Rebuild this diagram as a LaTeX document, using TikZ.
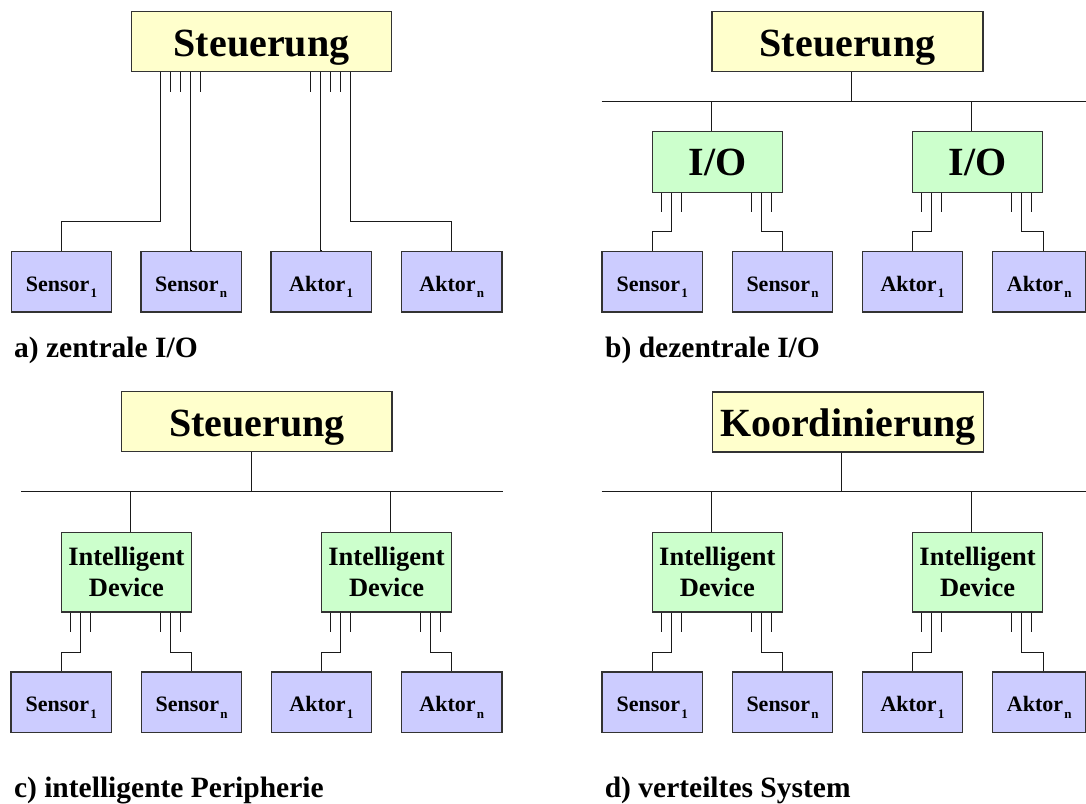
\documentclass[tikz,border=0pt]{standalone}
\usepackage{fontspec}
\setmainfont{Liberation Serif}
\definecolor{ctrlfill}{HTML}{FFFFCC}
\definecolor{devfill}{HTML}{CCFFCC}
\definecolor{fieldfill}{HTML}{CCCCFF}
\definecolor{boxline}{HTML}{333333}
\definecolor{wireline}{HTML}{1A1A1A}
\newcommand\idx[1]{\kern1.2pt\raisebox{-6.5pt}{\fontsize{13}{15}\selectfont #1}}
\begin{document}
\begin{tikzpicture}[x=1pt,y=-1pt,
  box/.style={draw=boxline, line width=1.2pt, inner sep=0pt},
  ctrl/.style={box, fill=ctrlfill, minimum height=60pt, text height=28.6pt, text depth=0pt, font=\fontsize{40}{48}\selectfont\bfseries},
  iobox/.style={box, fill=devfill, minimum width=130.3pt, minimum height=60.5pt, text height=27pt, text depth=0pt, font=\fontsize{40}{48}\selectfont\bfseries},
  devbox/.style={box, fill=devfill, minimum width=130.3pt, minimum height=79.7pt, align=center, font=\fontsize{26.5}{31}\selectfont\bfseries},
  fieldbox/.style={box, fill=fieldfill, minimum width=100.5pt, minimum height=60.5pt, text height=18.6pt, text depth=0pt, font=\fontsize{22}{26}\selectfont\bfseries},
  edgebox/.style={fieldbox, minimum width=93pt},
  caption/.style={anchor=base west, inner sep=0pt, font=\fontsize{29.5}{34}\selectfont\bfseries},
  wire/.style={draw=wireline, line width=1pt},
]
\useasboundingbox (0,0) rectangle (1086,803);

% ================= a) zentrale I/O =================
\node[ctrl, minimum width=260.7pt] (ca) at (261.5,41.7) {Steuerung};
\node[fieldbox] (as1) at (61.4,281.8) {Sensor\idx{1}};
\node[fieldbox] (asn) at (191.2,281.8) {Sensor\idx{n}};
\node[fieldbox] (aa1) at (321.2,281.8) {Aktor\idx{1}};
\node[fieldbox] (aan) at (451.8,281.8) {Aktor\idx{n}};
\foreach \o in {40,50,70,180,200,210}
  \draw[wire] ([xshift=\o]ca.south west) -- ++(0,19.3);
\draw[wire] ([xshift=30]ca.south west) -- ++(0,149.3) -| (as1.north);
\draw[wire] ([xshift=60]ca.south west) |- (asn.north);
\draw[wire] ([xshift=190]ca.south west) |- (aa1.north);
\draw[wire] ([xshift=220]ca.south west) -- ++(0,149.3) -| (aan.north);
\node[caption] (capa) at (14,357) {a) zentrale I/O};

% ================= b) dezentrale I/O =================
\node[ctrl, minimum width=271pt] (cb) at (847.5,41.7) {Steuerung};
\coordinate (bbl) at (601.6,101.4);
\coordinate (bbr) at (1086,101.4);
\draw[wire] (bbl) -- (bbr);
\draw[wire] ([xshift=140.2]cb.south west) -- ++(0,29.7);
\node[iobox] (bd1) at (717.35,162) {I/O};
\node[iobox] (bd2) at (977.6,162) {I/O};
\draw[wire] ([xshift=60]bd1.north west) -- ++(0,-30.3);
\draw[wire] ([xshift=60]bd2.north west) -- ++(0,-30.3);
\node[fieldbox] (bs1) at (652.2,281.8) {Sensor\idx{1}};
\node[fieldbox] (bsn) at (782.5,281.8) {Sensor\idx{n}};
\node[fieldbox] (ba1) at (912.45,281.8) {Aktor\idx{1}};
\node[edgebox] (ban) at (1039.2,281.8) {Aktor\idx{n}};
\foreach \d in {bd1,bd2}
  \foreach \o in {10,30,100,120}
    \draw[wire] ([xshift=\o]\d.south west) -- ++(0,19.5);
\draw[wire] ([xshift=20]bd1.south west) -- ++(0,39) -| (bs1.north);
\draw[wire] ([xshift=110]bd1.south west) -- ++(0,39) -| (bsn.north);
\draw[wire] ([xshift=20]bd2.south west) -- ++(0,39) -| (ba1.north);
\draw[wire] ([xshift=110]bd2.south west) -- ++(0,39) -| (bd2.south east |- ban.north);
\node[caption] (capb) at (605,357) {b) dezentrale I/O};

% ================= c) intelligente Peripherie =================
\node[ctrl, minimum width=270.3pt] (cc) at (256.85,421.85) {Steuerung};
\coordinate (cbl) at (21.3,491.8);
\coordinate (cbr) at (502.8,491.8);
\draw[wire] (cbl) -- (cbr);
\draw[wire] ([xshift=130]cc.south west) -- ++(0,40);
\node[devbox] (cd1) at (126.4,572.15) {Intelligent\\Device};
\node[devbox] (cd2) at (386.55,572.15) {Intelligent\\Device};
\draw[wire] ([xshift=70]cd1.north west) -- ++(0,-40.5);
\draw[wire] ([xshift=70]cd2.north west) -- ++(0,-40.5);
\node[fieldbox] (cs1) at (61.25,702.3) {Sensor\idx{1}};
\node[fieldbox] (csn) at (191.55,702.3) {Sensor\idx{n}};
\node[fieldbox] (ca1) at (321.4,702.3) {Aktor\idx{1}};
\node[fieldbox] (can) at (451.7,702.3) {Aktor\idx{n}};
\foreach \d in {cd1,cd2}
  \foreach \o in {10,30,100,120}
    \draw[wire] ([xshift=\o]\d.south west) -- ++(0,19.7);
\draw[wire] ([xshift=20]cd1.south west) -- ++(0,40) -| (cs1.north);
\draw[wire] ([xshift=110]cd1.south west) -- ++(0,40) -| (csn.north);
\draw[wire] ([xshift=20]cd2.south west) -- ++(0,40) -| (ca1.north);
\draw[wire] ([xshift=110]cd2.south west) -- ++(0,40) -| (can.north);
\node[caption] (capc) at (13.8,797) {c) intelligente Peripherie};

% ================= d) verteiltes System =================
\node[ctrl, minimum width=271pt] (cdd) at (847.8,422) {Koordinierung};
\coordinate (dbl) at (601.6,491.8);
\coordinate (dbr) at (1086,491.8);
\draw[wire] (dbl) -- (dbr);
\draw[wire] ([xshift=130.2]cdd.south west) -- ++(0,39.8);
\node[devbox] (dd1) at (717.35,572.15) {Intelligent\\Device};
\node[devbox] (dd2) at (977.6,572.15) {Intelligent\\Device};
\draw[wire] ([xshift=60]dd1.north west) -- ++(0,-40.5);
\draw[wire] ([xshift=60]dd2.north west) -- ++(0,-40.5);
\node[fieldbox] (ds1) at (652.2,702.3) {Sensor\idx{1}};
\node[fieldbox] (dsn) at (782.5,702.3) {Sensor\idx{n}};
\node[fieldbox] (da1) at (912.45,702.3) {Aktor\idx{1}};
\node[edgebox] (dan) at (1039.2,702.3) {Aktor\idx{n}};
\foreach \d in {dd1,dd2}
  \foreach \o in {10,30,100,120}
    \draw[wire] ([xshift=\o]\d.south west) -- ++(0,19.7);
\draw[wire] ([xshift=20]dd1.south west) -- ++(0,40) -| (ds1.north);
\draw[wire] ([xshift=110]dd1.south west) -- ++(0,40) -| (dsn.north);
\draw[wire] ([xshift=20]dd2.south west) -- ++(0,40) -| (da1.north);
\draw[wire] ([xshift=110]dd2.south west) -- ++(0,40) -| (dd2.south east |- dan.north);
\node[caption] (capd) at (604.6,797) {d) verteiltes System};
\end{tikzpicture}
\end{document}
